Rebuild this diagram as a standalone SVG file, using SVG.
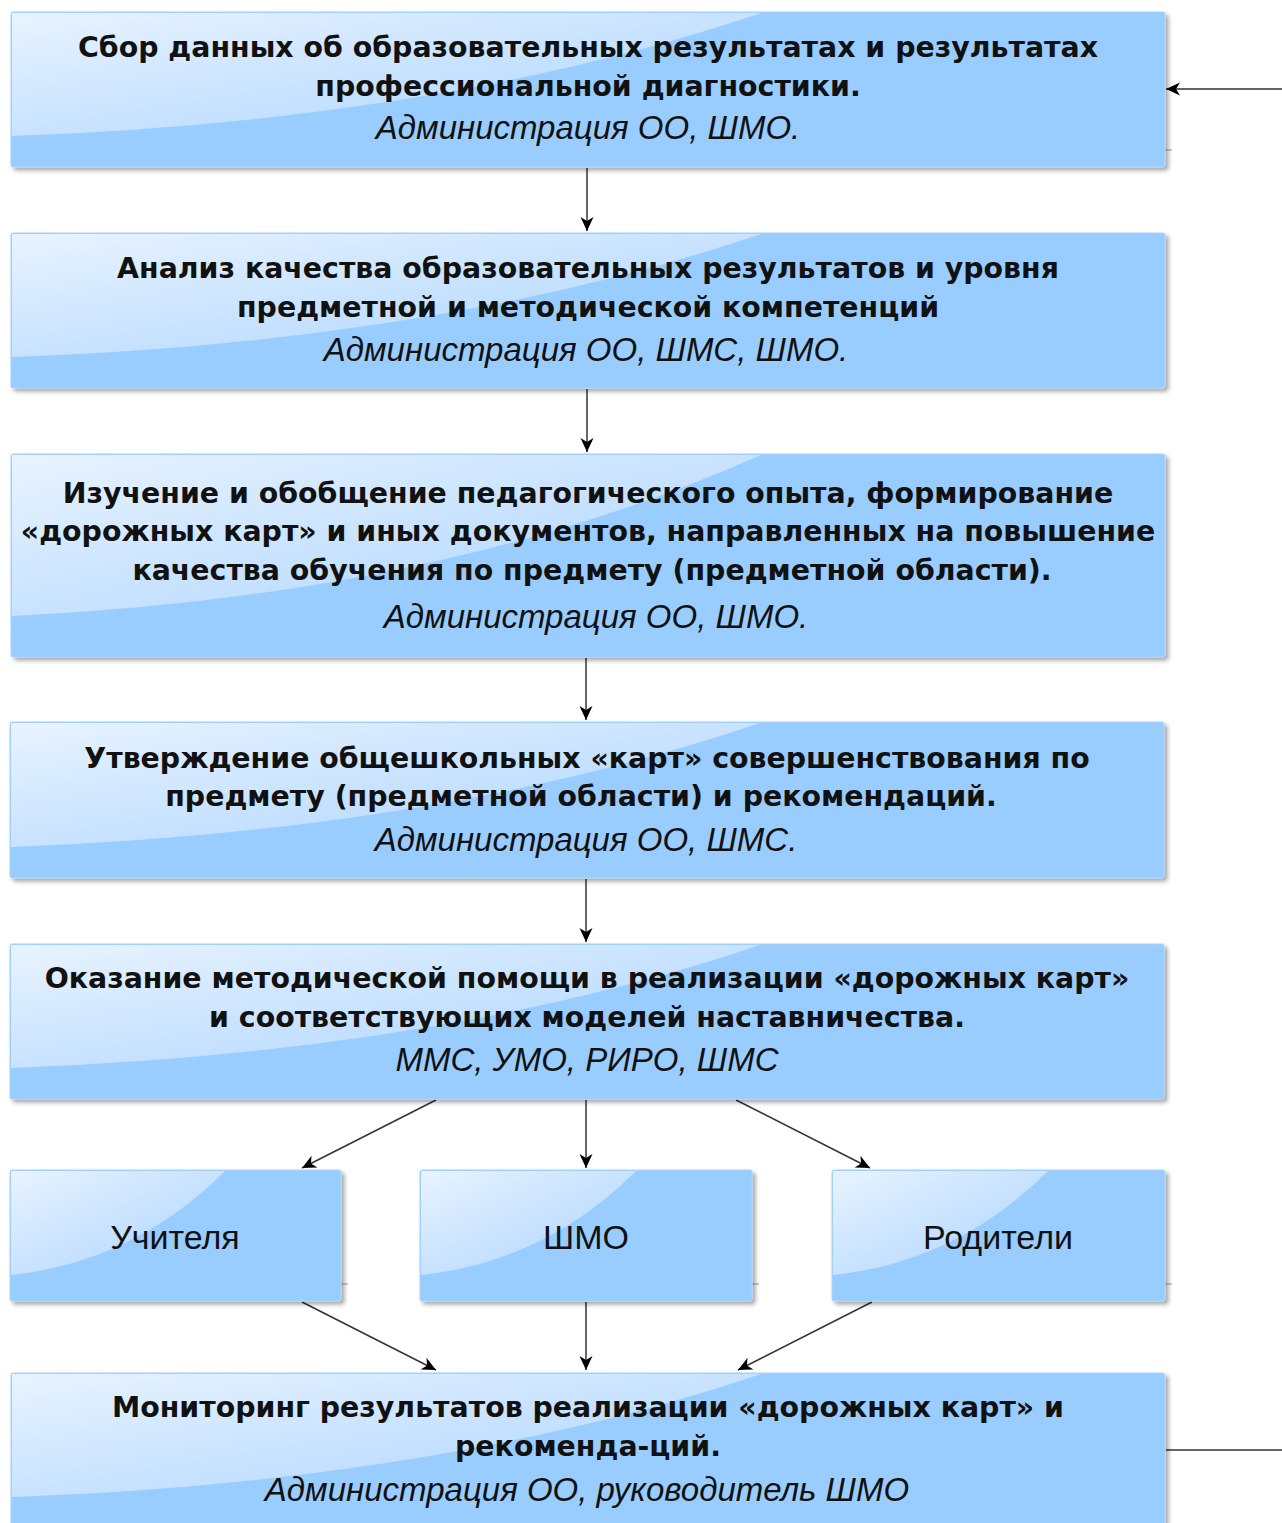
<svg xmlns="http://www.w3.org/2000/svg" width="1282" height="1523" viewBox="0 0 1282 1523">
<defs>
<style>
.box{fill:#99ccff;stroke:#a9d3ff;stroke-width:1;filter:url(#sh)}
.gl{fill:url(#gg)}
.b{font-family:"DejaVu Sans",Verdana,sans-serif;font-weight:bold;font-size:28.4px;fill:#111;text-anchor:middle}
.i{font-family:"Liberation Sans",Arial,sans-serif;font-style:italic;font-size:33px;fill:#111;text-anchor:middle}
.p{font-family:"Liberation Sans",Arial,sans-serif;font-size:34px;fill:#111;text-anchor:middle}
.c{stroke:#333;stroke-width:1.5;fill:none}
.ca{stroke:#333;stroke-width:1.5;fill:none;marker-end:url(#ah)}
.t{stroke:#999;stroke-width:1}
</style>
<filter id="sh" x="-5%" y="-10%" width="110%" height="130%">
<feDropShadow dx="3" dy="3" stdDeviation="2" flood-color="#000" flood-opacity="0.35"/>
</filter>
<linearGradient id="gg" x1="0" y1="0" x2="1" y2="1">
<stop offset="0" stop-color="#e8f3ff"/>
<stop offset="1" stop-color="#a9d3ff"/>
</linearGradient>
<marker id="ah" viewBox="-15 -8 16 16" refX="0" refY="0" markerWidth="16" markerHeight="16" orient="auto" markerUnits="userSpaceOnUse">
<path d="M0,0 L-14,-6.5 L-10,0 L-14,6.5 Z" fill="#000"/>
</marker>
</defs>
<rect width="1282" height="1523" fill="#fff"/>

<g id="connectors">
<line class="ca" x1="1282" y1="89" x2="1166" y2="89"/>
<line class="ca" x1="587" y1="168" x2="587" y2="231"/>
<line class="ca" x1="587" y1="389" x2="587" y2="452"/>
<line class="ca" x1="586" y1="658" x2="586" y2="720"/>
<line class="ca" x1="586" y1="879" x2="586" y2="942"/>
<line class="ca" x1="586" y1="1100" x2="586" y2="1168"/>
<line class="ca" x1="436" y1="1100" x2="302" y2="1168"/>
<line class="ca" x1="736" y1="1100" x2="870" y2="1168"/>
<line class="ca" x1="302" y1="1302" x2="436" y2="1370"/>
<line class="ca" x1="586" y1="1302" x2="586" y2="1370"/>
<line class="ca" x1="872" y1="1302" x2="738" y2="1370"/>
<line class="c" x1="1166" y1="1450" x2="1282" y2="1450"/>
<line class="t" x1="1165" y1="150" x2="1172" y2="150"/>
<line class="t" x1="341" y1="1284" x2="348" y2="1284"/>
<line class="t" x1="752" y1="1284" x2="759" y2="1284"/>
<line class="t" x1="1165" y1="1284" x2="1172" y2="1284"/>
</g>

<g id="n1">
<rect class="box" x="11" y="12" width="1154" height="155" rx="2"/>
<path class="gl" d="M12,13 L12,136 Q444,120.5 761,13 Z"/>
<text class="b" x="588" y="57">Сбор данных об образовательных результатах и результатах</text>
<text class="b" x="588" y="96">профессиональной диагностики.</text>
<text class="i" x="588" y="139">Администрация ОО, ШМО.</text>
</g>

<g id="n2">
<rect class="box" x="11" y="233" width="1154" height="155" rx="2"/>
<path class="gl" d="M12,234 L12,357 Q444,341.5 761,234 Z"/>
<text class="b" x="588" y="278">Анализ качества образовательных результатов и уровня</text>
<text class="b" x="588" y="317">предметной и методической компетенций</text>
<text class="i" x="586" y="361">Администрация ОО, ШМС, ШМО.</text>
</g>

<g id="n3">
<rect class="box" x="11" y="454" width="1154" height="203" rx="2"/>
<path class="gl" d="M12,455 L12,616 Q444,596 761,455 Z"/>
<text class="b" x="588" y="503">Изучение и обобщение педагогического опыта, формирование</text>
<text class="b" x="588" y="541">«дорожных карт» и иных документов, направленных на повышение</text>
<text class="b" x="592" y="580">качества обучения по предмету (предметной области).</text>
<text class="i" x="596" y="628">Администрация ОО, ШМО.</text>
</g>

<g id="n4">
<rect class="box" x="10" y="722" width="1154" height="156" rx="2"/>
<path class="gl" d="M11,723 L11,847 Q443,831 760,723 Z"/>
<text class="b" x="587" y="768">Утверждение общешкольных «карт» совершенствования по</text>
<text class="b" x="581" y="806">предмету (предметной области) и рекомендаций.</text>
<text class="i" x="586" y="851">Администрация ОО, ШМС.</text>
</g>

<g id="n5">
<rect class="box" x="10" y="944" width="1154" height="155" rx="2"/>
<path class="gl" d="M11,945 L11,1068 Q443,1052.5 760,945 Z"/>
<text class="b" x="587" y="988">Оказание методической помощи в реализации «дорожных карт»</text>
<text class="b" x="587" y="1027">и соответствующих моделей наставничества.</text>
<text class="i" x="587" y="1071">ММС, УМО, РИРО, ШМС</text>
</g>

<g id="n6">
<rect class="box" x="10" y="1170" width="331" height="131" rx="2"/>
<path class="gl" d="M11,1171 L11,1275 Q134,1262 225,1171 Z"/>
<text class="p" x="175" y="1249">Учителя</text>
</g>

<g id="n7">
<rect class="box" x="420" y="1170" width="332" height="131" rx="2"/>
<path class="gl" d="M421,1171 L421,1275 Q545,1262 636,1171 Z"/>
<text class="p" x="586" y="1249">ШМО</text>
</g>

<g id="n8">
<rect class="box" x="832" y="1170" width="333" height="131" rx="2"/>
<path class="gl" d="M833,1171 L833,1275 Q957,1262 1048,1171 Z"/>
<text class="p" x="998" y="1249">Родители</text>
</g>

<g id="n9">
<rect class="box" x="11" y="1373" width="1154" height="160" rx="2"/>
<path class="gl" d="M12,1374 L12,1497 Q444,1481.5 761,1374 Z"/>
<text class="b" x="588" y="1417">Мониторинг результатов реализации «дорожных карт» и</text>
<text class="b" x="588" y="1456">рекоменда-ций.</text>
<text class="i" x="587" y="1501">Администрация ОО, руководитель ШМО</text>
</g>
</svg>
